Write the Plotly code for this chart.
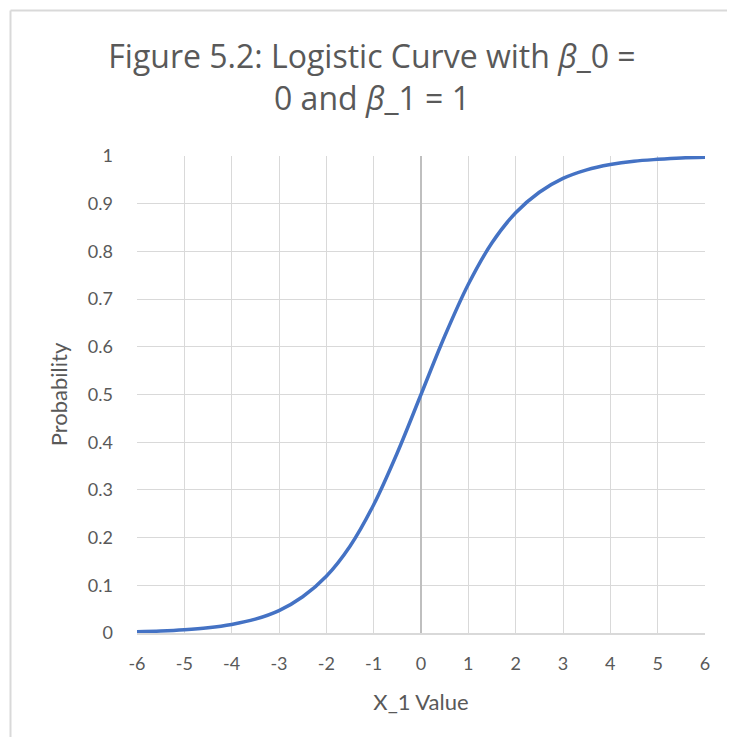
import plotly.graph_objects as go

# values
x_values = [-6, -5.5, -5, -4.5, -4, -3.5, -3, -2.5, -2, -1.5, -1, -0.5,
            0, 0.5, 1, 1.5, 2, 2.5, 3, 3.5, 4, 4.5, 5, 5.5, 6]
probability = [0.0025, 0.004, 0.0067, 0.011, 0.018, 0.029, 0.047, 0.076, 0.119, 0.182, 0.269, 0.378,
               0.5, 0.622, 0.731, 0.818, 0.881, 0.924, 0.953, 0.971, 0.982, 0.989, 0.993, 0.996, 0.9975]

x_ticks = list(range(-6, 7))
x_labels = ['-6', '-5', '-4', '-3', '-2', '-1', '0', '1', '2', '3', '4', '5', '6']
y_ticks = [0, 0.1, 0.2, 0.3, 0.4, 0.5, 0.6, 0.7, 0.8, 0.9, 1]
y_labels = ['0', '0.1', '0.2', '0.3', '0.4', '0.5', '0.6', '0.7', '0.8', '0.9', '1']

# page body adds an 8px margin, so the figure is a bit smaller than the window
W, H = 719, 729
L, R, T, B = 129, 22, 148, 104

fig = go.Figure()
fig.add_trace(go.Scatter(x=x_values, y=probability, mode='lines',
                         line=dict(color='#4472C4', width=3.5, shape='spline'),
                         showlegend=False))

font = 'Lato, Carlito, Calibri, sans-serif'
grey = '#595959'

fig.update_layout(
    width=W, height=H,
    margin=dict(l=L, r=R, t=T, b=B, autoexpand=False),
    paper_bgcolor='white', plot_bgcolor='white',
    font=dict(family=font, color=grey, size=18),
    title=dict(text='Figure 5.2: Logistic Curve with <i>β</i>_0 =<br>0 and <i>β</i>_1 = 1',
               x=364 / W, xanchor='center', y=1 - 60 / H, yanchor='top',
               font=dict(size=32, color=grey, family='Open Sans, sans-serif')),
    xaxis=dict(range=[-6, 6], tickvals=x_ticks, ticktext=x_labels, showgrid=True,
               gridcolor='#D9D9D9', gridwidth=1,
               zeroline=True, zerolinecolor='#BFBFBF', zerolinewidth=1.5,
               showline=True, linecolor='#D9D9D9', linewidth=1.5,
               ticks='', ticklabelstandoff=14, tickfont=dict(size=18, color=grey),
               title=dict(text='X_1 Value', font=dict(size=22, color=grey), standoff=21)),
    yaxis=dict(range=[0, 1], tickvals=y_ticks, ticktext=y_labels, showgrid=True,
               gridcolor='#D9D9D9', gridwidth=1, zeroline=False, showline=False,
               ticks='', ticklabelstandoff=23, tickfont=dict(size=18, color=grey),
               title=dict(text='Probability', font=dict(size=22, color=grey), standoff=14)),
)

# chart-area border (light grey, as in the source image)
pw, ph = W - L - R, H - T - B
bx = (2.5 - L) / pw
by = (H - B - 2.5) / ph
fig.add_shape(type='line', xref='paper', yref='paper', x0=bx, x1=bx, y0=-1, y1=by,
              line=dict(color='#D9D9D9', width=2))
fig.add_shape(type='line', xref='paper', yref='paper', x0=bx, x1=2, y0=by, y1=by,
              line=dict(color='#D9D9D9', width=2))

fig.write_html('out.html')
